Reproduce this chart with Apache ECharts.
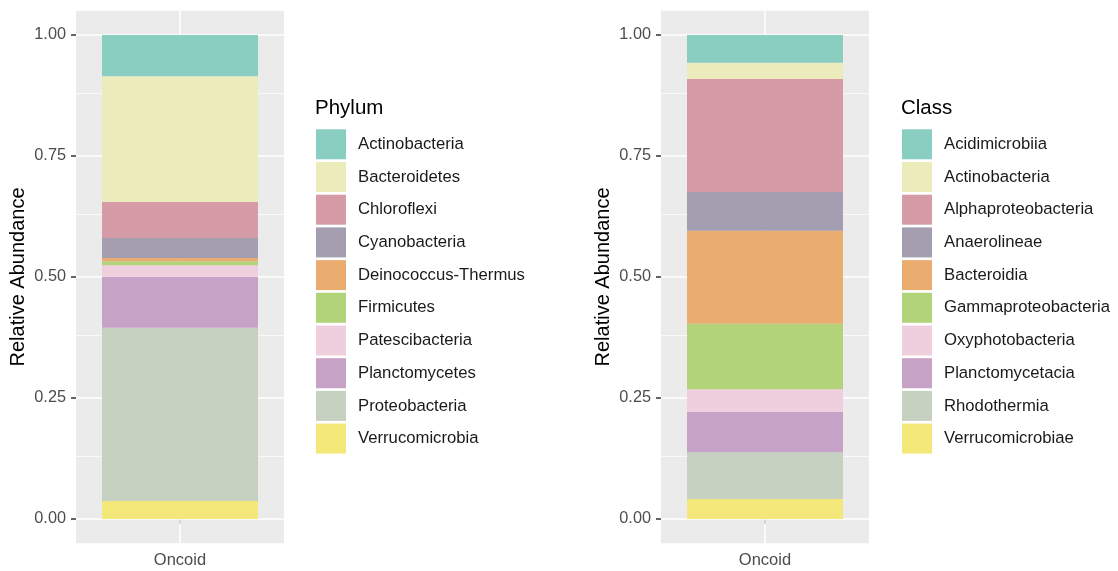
<!DOCTYPE html>
<html>
<head>
<meta charset="utf-8">
<script src="https://cdn.jsdelivr.net/npm/echarts@6/dist/echarts.min.js"></script>
<style>
html,body{margin:0;padding:0;background:#fff;}
#chart{width:1118px;height:571px;}
</style>
</head>
<body>
<div id="chart"></div>
<script>
// ---- data ----
const categories = ['Oncoid'];
const phylumNames = ['Actinobacteria','Bacteroidetes','Chloroflexi','Cyanobacteria','Deinococcus-Thermus','Firmicutes','Patescibacteria','Planctomycetes','Proteobacteria','Verrucomicrobia'];
const phylumValues = [0.0853,0.2597,0.0744,0.0413,0.0069,0.0083,0.0235,0.1053,0.3581,0.0372];
const classNames = ['Acidimicrobiia','Actinobacteria','Alphaproteobacteria','Anaerolineae','Bacteroidia','Gammaproteobacteria','Oxyphotobacteria','Planctomycetacia','Rhodothermia','Verrucomicrobiae'];
const classValues = [0.0572,0.0338,0.2334,0.0799,0.1921,0.1356,0.0463,0.0839,0.0965,0.0413];
const yTicks = [0, 0.25, 0.5, 0.75, 1];
const yMinorBreaks = [0.125, 0.375, 0.625, 0.875];
const palette = ['#8ACDC1','#EBEBBC','#D59CA7','#A59EB1','#EAAD6F','#B3D37A','#EFCFDE','#C6A2C6','#C6D1C2','#F4E87A'];

// ---- build ----
const FONT = 'Liberation Sans, Arial, Helvetica, sans-serif';
const chart = echarts.init(document.getElementById('chart'), null, {renderer: 'canvas'});

function gridLines() {
  const d = [];
  yTicks.forEach(v => d.push({yAxis: v, lineStyle: {width: 1.5}}));
  yMinorBreaks.forEach(v => d.push({yAxis: v, lineStyle: {width: 0.7}}));
  categories.forEach(c => d.push({xAxis: c, lineStyle: {width: 1.5}}));
  return d;
}

function makeSeries(prefix, names, values, idx) {
  const out = [];
  for (let i = names.length - 1; i >= 0; i--) {
    const s = {
      name: prefix + names[i],
      type: 'bar',
      stack: prefix,
      xAxisIndex: idx,
      yAxisIndex: idx,
      barWidth: '75%',
      data: [values[i]],
      itemStyle: {color: palette[i]},
      emphasis: {disabled: true},
      animation: false
    };
    if (i === names.length - 1) {
      s.markLine = {
        silent: true,
        z: 1,
        symbol: 'none',
        animation: false,
        label: {show: false},
        lineStyle: {color: '#FFFFFF', type: 'solid'},
        emphasis: {disabled: true},
        data: gridLines()
      };
    }
    out.push(s);
  }
  return out;
}

const grids = [
  {left: 76, top: 10.8, width: 208, height: 532.4},
  {left: 661, top: 10.8, width: 208, height: 532.4}
].map(g => Object.assign({show: true, backgroundColor: '#EBEBEB', borderWidth: 0, containLabel: false}, g));

function xAx(i) {
  return {
    gridIndex: i, type: 'category', data: categories,
    axisLine: {show: false},
    axisTick: {show: true, alignWithLabel: true, length: 5, lineStyle: {color: '#333333', width: 1.5}},
    axisLabel: {color: '#4D4D4D', fontSize: 16.5, fontFamily: FONT, margin: 9},
    splitLine: {show: false}
  };
}
function yAx(i) {
  return {
    gridIndex: i, type: 'value', min: -0.05, max: 1.05,
    name: 'Relative Abundance', nameLocation: 'middle', nameGap: 48,
    nameTextStyle: {fontSize: 20, color: '#000000', fontFamily: FONT},
    axisLine: {show: false},
    axisTick: {show: true, length: 5, customValues: yTicks, lineStyle: {color: '#333333', width: 1.5}},
    axisLabel: {customValues: yTicks, formatter: v => Number(v).toFixed(2), color: '#4D4D4D', fontSize: 16.3, fontFamily: FONT, margin: 10, padding: [3, 0, 0, 0]},
    splitLine: {show: false}
  };
}

function legend(prefix, names, left) {
  return {
    data: names.map(n => prefix + n),
    formatter: n => n.slice(prefix.length),
    orient: 'vertical', left: left, top: 129.3, padding: 0,
    itemWidth: 30, itemHeight: 30, itemGap: 2.7, icon: 'rect',
    selectedMode: false,
    textStyle: {fontSize: 16.7, color: '#1A1A1A', fontFamily: FONT, padding: [4, 0, 0, 7]}
  };
}

const option = {
  backgroundColor: '#FFFFFF',
  animation: false,
  title: [
    {text: 'Phylum', left: 315, top: 98, padding: 0, textStyle: {fontSize: 20.5, fontWeight: 'normal', color: '#000000', fontFamily: FONT}},
    {text: 'Class', left: 901, top: 98, padding: 0, textStyle: {fontSize: 20.5, fontWeight: 'normal', color: '#000000', fontFamily: FONT}}
  ],
  grid: grids,
  xAxis: [xAx(0), xAx(1)],
  yAxis: [yAx(0), yAx(1)],
  legend: [legend('P|', phylumNames, 316), legend('C|', classNames, 902)],
  series: makeSeries('P|', phylumNames, phylumValues, 0).concat(makeSeries('C|', classNames, classValues, 1))
};
chart.setOption(option);
</script>
</body>
</html>
